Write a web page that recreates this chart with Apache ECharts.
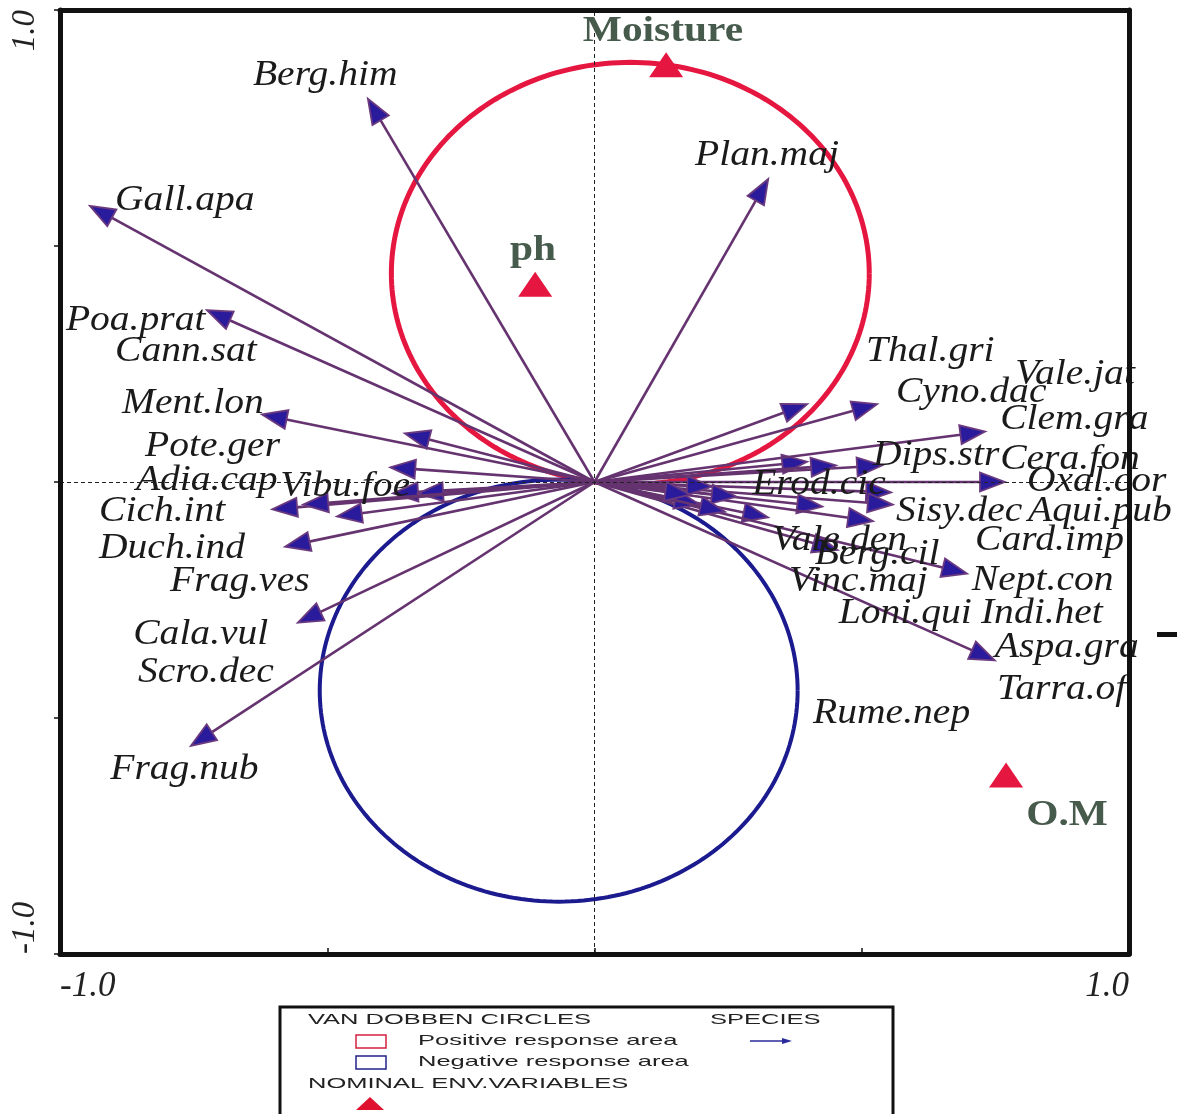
<!DOCTYPE html>
<html>
<head>
<meta charset="utf-8">
<title>CCA biplot – species, Van Dobben circles and nominal environmental variables</title>
<script src="https://cdn.jsdelivr.net/npm/echarts@6/dist/echarts.min.js"></script>
<style>
  html, body { margin: 0; padding: 0; background: #ffffff; }
  #chart { width: 1177px; height: 1114px; }
</style>
</head>
<body>
<div id="chart"></div>
<script>
// ---- species scores (arrow tips, axis 1 / axis 2) ----
const speciesNames = [
  'Berg.him', 'Gall.apa', 'Poa.prat', 'Cann.sat', 'Ment.lon', 'Pote.ger', 'Adia.cap',
  'Vibu.foe', 'Cich.int', 'Duch.ind', 'Frag.ves', 'Cala.vul', 'Scro.dec', 'Frag.nub',
  'Plan.maj', 'Thal.gri', 'Vale.jat', 'Cyno.dac', 'Clem.gra', 'Dips.str', 'Cera.fon',
  'Erod.cic', 'Oxal.cor', 'Sisy.dec', 'Aqui.pub', 'Card.imp', 'Vale.den', 'Berg.cil',
  'Nept.con', 'Vinc.maj', 'Loni.qui', 'Indi.het', 'Aspa.gra', 'Tarra.of', 'Rume.nep'
];
const speciesX = [
  -0.424, -0.944, -0.725, -0.377, -0.622, -0.355, -0.382,
  -0.330, -0.603, -0.579, -0.555, -0.545, -0.482, -0.755,
   0.325,  0.398,  0.398,  0.529,  0.731,  0.538,  0.452,
   0.555,  0.768,  0.558,  0.426,  0.521,  0.325,  0.455,
   0.697,  0.266,  0.220,  0.197,  0.749,  0.244,  0.179
];
const speciesY = [
   0.812,  0.585,  0.364, -0.024,  0.143,  0.103,  0.031,
  -0.024, -0.058, -0.137, -0.298, -0.048, -0.073, -0.559,
   0.642,  0.165,  0.043,  0.165,  0.107,  0.035,  0.035,
  -0.022,  0.000, -0.048, -0.052, -0.083, -0.075, -0.144,
  -0.194, -0.031, -0.010, -0.048, -0.378, -0.063, -0.027
];

// ---- nominal environmental variables (centroids) ----
const envNames = ['Moisture', 'ph', 'O.M'];
const envX = [0.134, -0.111, 0.770];
const envY = [0.884, 0.419, -0.621];

// ---- axis tick labels (only the ends are labelled) ----
const xTickValues = [-1, 1];
const xTickLabels = ['-1.0', '1.0'];
const yTickValues = [-1, 1];
const yTickLabels = ['-1.0', '1.0'];

// ---- legend texts ----
const legendHeaders = ['VAN DOBBEN CIRCLES', 'SPECIES', 'NOMINAL ENV.VARIABLES'];
const legendEntries = ['Positive response area', 'Negative response area'];

// ---- label placement in axis units (layout only) ----
const speciesLabelAt = [
  [-0.639, 0.861], [-0.897, 0.596], [-0.989, 0.341], [-0.897, 0.275], [-0.884, 0.165],
  [-0.841, 0.075], [-0.858, 0.003], [-0.588, -0.010], [-0.927, -0.063], [-0.927, -0.141],
  [-0.794, -0.211], [-0.863, -0.324], [-0.854, -0.404], [-0.906, -0.610],
  [0.188, 0.691], [0.508, 0.275], [0.787, 0.228], [0.564, 0.190], [0.759, 0.131],
  [0.521, 0.056], [0.759, 0.048], [0.295, -0.005], [0.809, 0.001], [0.564, -0.063],
  [0.811, -0.063], [0.712, -0.124], [0.332, -0.124], [0.412, -0.154], [0.706, -0.209],
  [0.364, -0.211], [0.457, -0.279], [0.723, -0.279], [0.749, -0.351], [0.753, -0.441],
  [0.409, -0.492]
];
const envLabelAt = [[0.128, 0.955], [-0.115, 0.489], [0.884, -0.706]];

// ---- colours & fonts ----
const ARROW_LINE = '#65336f';
const ARROW_HEAD = '#2a1b9c';
const ARROW_EDGE = '#6b3a7e';
const POS_RED = '#e5163f';
const NEG_BLUE = '#1b1b8f';
const ENV_TEXT = '#475b4d';
const SERIF = '"Liberation Serif", "DejaVu Serif", serif';
const SANS = '"Liberation Sans", Arial, sans-serif';

// Van Dobben circles: the positive circle has the origin→Moisture segment
// as diameter, the negative one is its mirror through the origin.
const mIdx = envNames.indexOf('Moisture');
const vdR = Math.hypot(envX[mIdx], envY[mIdx]) / 2;
const vanDobben = [
  [envX[mIdx] / 2, envY[mIdx] / 2, vdR, 1],
  [-envX[mIdx] / 2, -envY[mIdx] / 2, vdR, -1]
];

const chart = echarts.init(document.getElementById('chart'), null, { renderer: 'canvas' });

function tickFormatter(values, labels) {
  return function (v) {
    const i = values.findIndex(t => Math.abs(t - v) < 1e-9);
    return i >= 0 ? labels[i] : '';
  };
}

const frameLine = { show: true, onZero: false, lineStyle: { color: '#111', width: 5 } };

const option = {
  backgroundColor: '#ffffff',
  animation: false,
  grid: { left: 60, right: 48, top: 10, bottom: 160, containLabel: false },
  xAxis: [
    {
      type: 'value', min: -1, max: 1, interval: 0.5, position: 'bottom', z: 10,
      axisLine: frameLine,
      axisTick: { show: true, inside: true, length: 6, lineStyle: { color: '#111', width: 1.5 } },
      axisLabel: {
        show: true, margin: 15, fontSize: 35, fontStyle: 'italic', fontFamily: SERIF, color: '#222',
        formatter: tickFormatter(xTickValues, xTickLabels),
        alignMinLabel: 'left', alignMaxLabel: 'right'
      },
      splitLine: { show: false }
    },
    {
      type: 'value', min: -1, max: 1, position: 'top', z: 10,
      axisLine: frameLine, axisTick: { show: false }, axisLabel: { show: false }, splitLine: { show: false }
    }
  ],
  yAxis: [
    {
      type: 'value', min: -1, max: 1, interval: 0.5, position: 'left', z: 10,
      axisLine: frameLine,
      axisTick: { show: true, inside: false, length: 6, lineStyle: { color: '#111', width: 1.5 } },
      axisLabel: {
        show: true, rotate: 90, margin: 18, fontSize: 33, fontStyle: 'italic', fontFamily: SERIF, color: '#222',
        formatter: tickFormatter(yTickValues, yTickLabels),
        alignMinLabel: 'left', alignMaxLabel: 'right'
      },
      splitLine: { show: false }
    },
    {
      type: 'value', min: -1, max: 1, position: 'right', z: 10,
      axisLine: frameLine, axisTick: { show: false }, axisLabel: { show: false }, splitLine: { show: false }
    }
  ],
  series: [
    // Van Dobben circles
    {
      type: 'custom', name: 'Van Dobben', xAxisIndex: 0, yAxisIndex: 0, z: 2, silent: true, clip: false,
      data: vanDobben,
      renderItem: function (params, api) {
        const cx = api.value(0), cy = api.value(1), r = api.value(2), s = api.value(3);
        const pts = [];
        for (let k = 0; k <= 240; k++) {
          const a = (k / 240) * Math.PI * 2;
          pts.push(api.coord([cx + r * Math.cos(a), cy + r * Math.sin(a)]));
        }
        return {
          type: 'polyline', shape: { points: pts },
          style: { stroke: s > 0 ? POS_RED : NEG_BLUE, lineWidth: s > 0 ? 5 : 4, fill: null }
        };
      }
    },
    // species arrows
    {
      type: 'custom', name: 'Species', xAxisIndex: 0, yAxisIndex: 0, z: 3, silent: true, clip: false,
      data: speciesX.map((x, i) => [x, speciesY[i]]),
      renderItem: function (params, api) {
        const o = api.coord([0, 0]);
        const t = api.coord([api.value(0), api.value(1)]);
        const dx = t[0] - o[0], dy = t[1] - o[1];
        const len = Math.hypot(dx, dy) || 1;
        const ux = dx / len, uy = dy / len;
        const hl = Math.min(25, len * 0.6), hw = 9.5;
        const bx = t[0] - ux * hl, by = t[1] - uy * hl;
        return {
          type: 'group',
          children: [
            { type: 'line', shape: { x1: o[0], y1: o[1], x2: bx + ux * 4, y2: by + uy * 4 },
              style: { stroke: ARROW_LINE, lineWidth: 2.6 } },
            { type: 'polygon',
              shape: { points: [[t[0], t[1]], [bx - uy * hw, by + ux * hw], [bx + uy * hw, by - ux * hw]] },
              style: { fill: ARROW_HEAD, stroke: ARROW_EDGE, lineWidth: 1.8 } }
          ]
        };
      }
    },
    // nominal environmental variables
    {
      type: 'scatter', name: 'Env', xAxisIndex: 0, yAxisIndex: 0, z: 4, silent: true,
      symbol: 'triangle', symbolSize: [34, 25],
      itemStyle: { color: POS_RED, opacity: 1 },
      data: envX.map((x, i) => [x, envY[i]]),
      markLine: {
        silent: true, symbol: 'none', animation: false,
        label: { show: false },
        lineStyle: { type: [4, 3], color: '#222', width: 1 },
        data: [{ xAxis: 0 }, { yAxis: 0 }]
      }
    },
    // species labels
    {
      type: 'custom', name: 'Species labels', xAxisIndex: 0, yAxisIndex: 0, z: 5, silent: true, clip: false,
      data: speciesLabelAt.map((p, i) => [p[0], p[1], i]),
      renderItem: function (params, api) {
        const p = api.coord([api.value(0), api.value(1)]);
        return {
          type: 'text', x: p[0], y: p[1], scaleX: 1.13,
          style: {
            text: speciesNames[api.value(2)], fill: '#1a1a1a',
            font: 'italic 35px ' + SERIF, textAlign: 'left', textVerticalAlign: 'middle'
          }
        };
      }
    },
    // environmental variable labels
    {
      type: 'custom', name: 'Env labels', xAxisIndex: 0, yAxisIndex: 0, z: 5, silent: true, clip: false,
      data: envLabelAt.map((p, i) => [p[0], p[1], i]),
      renderItem: function (params, api) {
        const p = api.coord([api.value(0), api.value(1)]);
        return {
          type: 'text', x: p[0], y: p[1], scaleX: 1.15,
          style: {
            text: envNames[api.value(2)], fill: ENV_TEXT,
            font: 'bold 36px ' + SERIF, textAlign: 'center', textVerticalAlign: 'middle'
          }
        };
      }
    }
  ],
  graphic: [
    // small mark beside the right frame
    { type: 'rect', shape: { x: 1157, y: 632, width: 20, height: 5 }, style: { fill: '#111' }, silent: true },
    // legend box
    { type: 'rect', shape: { x: 280, y: 1007, width: 613, height: 120 },
      style: { fill: '#fff', stroke: '#111', lineWidth: 3 }, silent: true, z: 20 },
    { type: 'text', x: 308, y: 1020, scaleX: 1.7, z: 21, silent: true,
      style: { text: legendHeaders[0], font: '15px ' + SANS, fill: '#222', textVerticalAlign: 'middle' } },
    { type: 'text', x: 710, y: 1020, scaleX: 1.7, z: 21, silent: true,
      style: { text: legendHeaders[1], font: '15px ' + SANS, fill: '#222', textVerticalAlign: 'middle' } },
    { type: 'rect', shape: { x: 356, y: 1035, width: 30, height: 13 }, z: 21, silent: true,
      style: { fill: 'none', stroke: '#d3213f', lineWidth: 1.5 } },
    { type: 'text', x: 418, y: 1041, scaleX: 1.7, z: 21, silent: true,
      style: { text: legendEntries[0], font: '15px ' + SANS, fill: '#222', textVerticalAlign: 'middle' } },
    { type: 'line', shape: { x1: 750, y1: 1041, x2: 784, y2: 1041 }, z: 21, silent: true,
      style: { stroke: '#2a2a9a', lineWidth: 1.5 } },
    { type: 'polygon', shape: { points: [[792, 1041], [782, 1038], [782, 1044]] }, z: 21, silent: true,
      style: { fill: '#2a2a9a' } },
    { type: 'rect', shape: { x: 356, y: 1056, width: 30, height: 13 }, z: 21, silent: true,
      style: { fill: 'none', stroke: '#22228a', lineWidth: 1.5 } },
    { type: 'text', x: 418, y: 1062, scaleX: 1.7, z: 21, silent: true,
      style: { text: legendEntries[1], font: '15px ' + SANS, fill: '#222', textVerticalAlign: 'middle' } },
    { type: 'text', x: 308, y: 1084, scaleX: 1.7, z: 21, silent: true,
      style: { text: legendHeaders[2], font: '15px ' + SANS, fill: '#222', textVerticalAlign: 'middle' } },
    { type: 'polygon', shape: { points: [[370, 1097], [356, 1110], [384, 1110]] }, z: 21, silent: true,
      style: { fill: '#e0102f' } }
  ]
};

chart.setOption(option);
</script>
</body>
</html>
